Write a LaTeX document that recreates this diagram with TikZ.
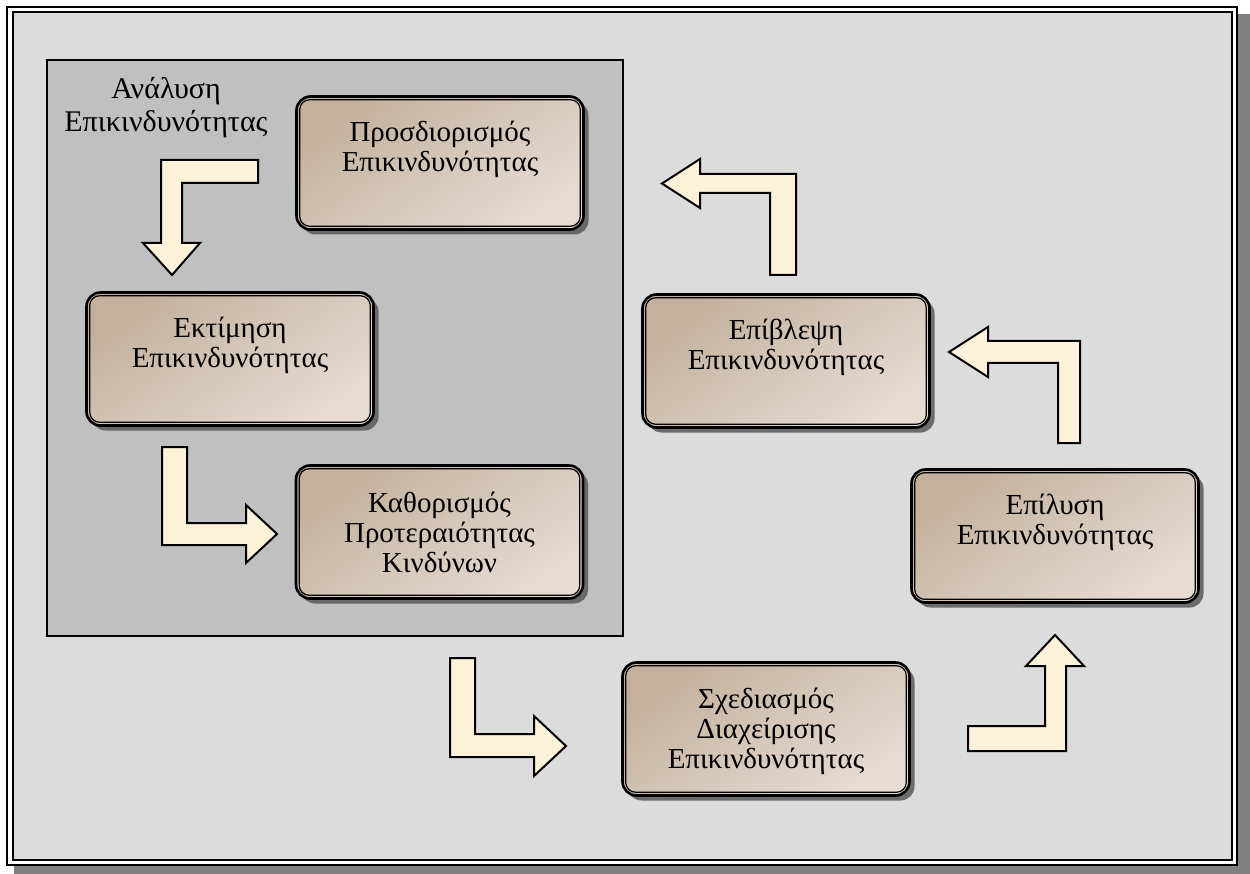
\documentclass[tikz,border=0pt]{standalone}
\usepackage{fontspec}
\setmainfont{Liberation Serif}
\usetikzlibrary{shadows}

\definecolor{pagegray}{RGB}{220,220,220}
\definecolor{panelgray}{RGB}{192,192,192}
\definecolor{framegray}{RGB}{128,128,128}
\definecolor{tanD}{RGB}{196,176,156}
\definecolor{tanL}{RGB}{230,220,210}
\definecolor{cream}{RGB}{253,241,218}

\tikzset{
  stepbox/.style={rounded corners=14pt, minimum width=287pt, minimum height=133pt,
    inner sep=0pt, draw=black, line width=2.6pt,
    top color=tanD, bottom color=tanL, shading angle=35,
    drop shadow={shadow xshift=5pt, shadow yshift=-5pt, fill=black!65, opacity=0.85}},
  innerline/.style={draw=black, line width=1.2pt, rounded corners=10pt},
  boxlabel/.style={anchor=north, align=center, font=\fontsize{29}{30}\selectfont, inner sep=0pt},
  blockarrow/.style={fill=cream, draw=black, line width=2pt, line join=miter},
}

\begin{document}
\begin{tikzpicture}[x=1pt, y=-1pt]
  \useasboundingbox (0,0) rectangle (1250,874);

  % outer frame with its shadow
  \fill[framegray] (14,14) rectangle (1250,874);
  \draw[line width=2.5pt, fill=white] (7,7) rectangle (1237,865);
  \draw[line width=2pt, fill=pagegray] (12.5,12.5) rectangle (1232,860);

  % risk analysis panel
  \draw[line width=1.5pt, fill=panelgray] (47,60) rectangle (623,636);
  \node[font=\fontsize{30}{33}\selectfont, align=center, inner sep=0pt, anchor=north]
    (lbl) at (166,77) {Ανάλυση\\Επικινδυνότητας};

  % process steps
  \node[stepbox] (b1) at (440,163) {};
  \node[stepbox] (b2) at (230,359) {};
  \node[stepbox] (b3) at (439.5,532) {};
  \node[stepbox] (b4) at (786,361) {};
  \node[stepbox] (b5) at (1055,536) {};
  \node[stepbox] (b6) at (766,729) {};

  \foreach \b in {b1,b2,b3,b4,b5,b6}
    \draw[innerline] ([shift={(4.5,4.5)}]\b.north west) rectangle ([shift={(-4.5,-4.5)}]\b.south east);

  \node[boxlabel] (b1t) at ([shift={(0,26)}]b1.north) {Προσδιορισμός\\Επικινδυνότητας};
  \node[boxlabel] (b2t) at ([shift={(0,26)}]b2.north) {Εκτίμηση\\Επικινδυνότητας};
  \node[boxlabel] (b3t) at ([shift={(0,28)}]b3.north) {Καθορισμός\\Προτεραιότητας\\Κινδύνων};
  \node[boxlabel] (b4t) at ([shift={(0,26)}]b4.north) {Επίβλεψη\\Επικινδυνότητας};
  \node[boxlabel] (b5t) at ([shift={(0,26)}]b5.north) {Επίλυση\\Επικινδυνότητας};
  \node[boxlabel] (b6t) at ([shift={(0,27)}]b6.north) {Σχεδιασμός\\Διαχείρισης\\Επικινδυνότητας};

  % bent block arrows
  \draw[blockarrow] (258,160) -- (161,160) -- (161,243) -- (143,243) -- (172,275)
    -- (200,243) -- (182,243) -- (182,183) -- (258,183) -- cycle;
  \draw[blockarrow] (162,447) -- (187,447) -- (187,523) -- (246,523) -- (246,505)
    -- (277,534) -- (246,563) -- (246,545) -- (162,545) -- cycle;
  \draw[blockarrow] (450,658) -- (475,658) -- (475,734) -- (534,734) -- (534,716)
    -- (566,746) -- (534,776) -- (534,757) -- (450,757) -- cycle;
  \draw[blockarrow] (968,726) -- (1045,726) -- (1045,666) -- (1026,666) -- (1055,635)
    -- (1084,666) -- (1066,666) -- (1066,751) -- (968,751) -- cycle;
  \draw[blockarrow] (1080,443) -- (1058,443) -- (1058,363) -- (988,363) -- (988,377)
    -- (949,352) -- (988,327) -- (988,341) -- (1080,341) -- cycle;
  \draw[blockarrow] (796,275) -- (770,275) -- (770,193) -- (700,193) -- (700,208)
    -- (662,183.5) -- (700,159) -- (700,174) -- (796,174) -- cycle;
\end{tikzpicture}
\end{document}
